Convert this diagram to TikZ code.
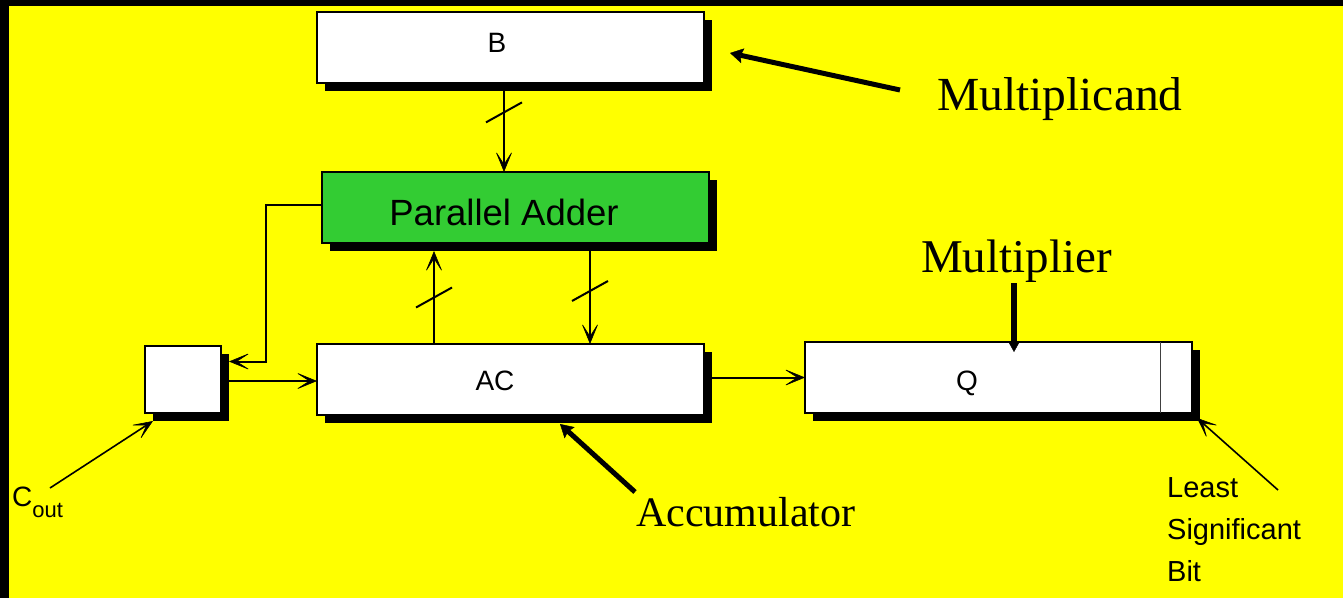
\documentclass[tikz,border=0pt]{standalone}
\usepackage{fontspec}
\setmainfont{Liberation Serif}
\setsansfont{Liberation Sans}
\usetikzlibrary{arrows.meta,shadows,calc}
\definecolor{bgyellow}{RGB}{255,255,0}
\definecolor{addergreen}{RGB}{51,204,51}
\newcommand{\fsz}[1]{\fontsize{#1}{#1}\selectfont}
\begin{document}
\begin{tikzpicture}[x=1pt,y=-1pt,
  box/.style={draw=black, line width=1.8pt, fill=white, inner sep=0pt, outer sep=0pt,
    drop shadow={shadow xshift=8pt, shadow yshift=-8pt, fill=black, opacity=1}},
  conn/.style={line width=2pt, -{Stealth[length=22pt,width=18pt,inset=14pt,line width=0.6pt]}},
  callout/.style={line width=5pt, -{Stealth[length=13pt,width=15pt,inset=2pt,line width=0.4pt]}},
  callouttwo/.style={line width=5.5pt, -{Triangle[length=10pt,width=11pt,line width=0.4pt]}},
  slash/.style={line width=2pt},
  lbl/.style={font=\sffamily\fsz{28}, inner sep=0pt, anchor=base},
  big/.style={font=\rmfamily\fsz{47.5}, inner sep=0pt, anchor=base west}]
\useasboundingbox (0,0) rectangle (1343,598);
\fill[bgyellow] (0,0) rectangle (1343,598);
\fill[black] (0,0) rectangle (1343,6);
\fill[black] (0,0) rectangle (9,598);

% boxes
\node[box, minimum width=387pt, minimum height=71pt] (B) at (510.5,47.5) {};
\node[box, fill=addergreen, minimum width=387pt, minimum height=71pt] (PA) at (515.5,207.5) {};
\node[box, minimum width=76pt, minimum height=67pt] (C) at (183,379.5) {};
\node[box, minimum width=387pt, minimum height=71pt] (AC) at (510.5,379.5) {};
\node[box, minimum width=387pt, minimum height=71pt] (Q) at (998.5,377.5) {};
\draw[line width=1pt, draw=black!75] ([xshift=-32pt]Q.north east) -- ([xshift=-32pt]Q.south east);

% box texts
\node[lbl] (Bt) at (497,52) {B};
\node[lbl, font=\sffamily\fsz{36.5}] (PAt) at (504,225) {Parallel Adder};
\node[lbl] (ACt) at (495,390) {AC};
\node[lbl] (Qt) at (967,390) {Q};

% B -> Parallel Adder
\coordinate (b1) at ([xshift=-6.5pt]B.south);
\draw[conn] (b1) -- coordinate[pos=0.33] (s1) (b1 |- PA.north);
\draw[slash] ($(s1)+(-18,10)$) -- ($(s1)+(18,-10)$);

% AC -> Parallel Adder
\coordinate (a1) at ([xshift=-76.5pt]AC.north);
\coordinate (pa1) at ([yshift=-8pt]PA.south);
\draw[conn] (a1) -- coordinate[midway] (s2) (a1 |- pa1);
\draw[slash] ($(s2)+(-18,10)$) -- ($(s2)+(18,-10)$);

% Parallel Adder -> AC
\coordinate (p2) at ([xshift=74.5pt,yshift=-8pt]PA.south);
\draw[conn] (p2) -- coordinate[pos=0.43] (s3) (p2 |- AC.north);
\draw[slash] ($(s3)+(-18,10)$) -- ($(s3)+(18,-10)$);

% Parallel Adder carry -> C
\coordinate (cin) at ([xshift=8pt,yshift=18pt]C.east);
\draw[conn] ([yshift=2.5pt]PA.west) -- ++(-56,0) |- (cin);

% C -> AC
\coordinate (cout) at ([xshift=8pt,yshift=-1.5pt]C.east);
\draw[conn] (cout) -- (cout -| AC.west);

% AC -> Q
\coordinate (acE) at ([xshift=8pt]AC.east);
\draw[conn] (acE |- Q.west) -- (Q.west);

% annotations
\node[big] (mcand) at (937,110) {Multiplicand};
\coordinate (mcT) at (900,90);
\draw[callout] (mcT) -- ([xshift=26pt,yshift=-5.5pt]B.east);

\node[big, font=\rmfamily\fsz{47}] (mplier) at (921,272) {Multiplier};
\coordinate (mpT) at (1014,283);
\draw[callouttwo] (mpT) -- ([xshift=15.5pt,yshift=-10pt]Q.north);

\node[big, font=\rmfamily\fsz{42}] (acc) at (636,526) {Accumulator};
\coordinate (accT) at (635,492);
\draw[callout] (accT) -- ([xshift=49.5pt,yshift=-9pt]AC.south);

\node[font=\sffamily\fontsize{29}{42}\selectfont, inner sep=0pt, align=left, anchor=north west] (lsb) at (1167,477.5) {Least\\Significant\\Bit};
\coordinate (lsbT) at (1278,490);
\draw[conn, line width=1.6pt] (lsbT) -- ([xshift=5pt,yshift=-5pt]Q.south east);

\node[font=\sffamily\fsz{28}, inner sep=0pt, anchor=base west] (cout) at (12,506) {C\raisebox{-11pt}{\fsz{22}out}};
\coordinate (coT) at (50,488);
\draw[conn, line width=1.6pt] (coT) -- ([xshift=8pt,yshift=-8pt]C.south west);
\end{tikzpicture}
\end{document}
